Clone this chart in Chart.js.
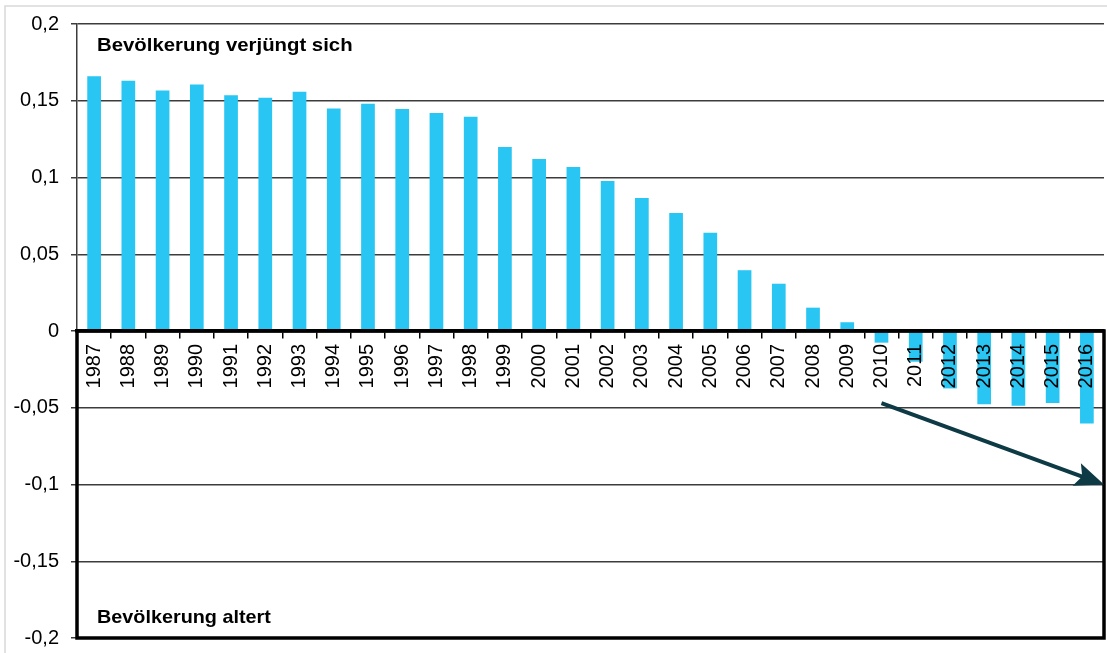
<!DOCTYPE html>
<html>
<head>
<meta charset="utf-8">
<script src="https://cdn.jsdelivr.net/npm/chart.js@4"></script>
<style>
  html, body { margin: 0; padding: 0; background: #fff; }
  #wrap { width: 1107px; height: 653px; position: relative; }
</style>
</head>
<body>
<div id="wrap"><canvas id="myChart" width="1107" height="653"></canvas></div>
<script>
// Jahre und Werte
const jahre = ['1987','1988','1989','1990','1991','1992','1993','1994','1995','1996',
  '1997','1998','1999','2000','2001','2002','2003','2004','2005','2006',
  '2007','2008','2009','2010','2011','2012','2013','2014','2015','2016'];
const werte = [0.166, 0.163, 0.1566, 0.1606, 0.1536, 0.1519, 0.1558, 0.1449, 0.148, 0.1447,
  0.142, 0.1395, 0.1199, 0.1121, 0.1069, 0.0978, 0.0867, 0.0769, 0.064, 0.0396,
  0.0308, 0.0152, 0.0057, -0.0076, -0.02, -0.0374, -0.0478, -0.0487, -0.0469, -0.0602];
const yTicks = [0.2, 0.15, 0.1, 0.05, 0, -0.05, -0.1, -0.15, -0.2];
const textOben = 'Bevölkerung verjüngt sich';
const textUnten = 'Bevölkerung altert';
// Pfeil: von 2010 bei -0,047 bis rechter Rand bei -0,1
const pfeilStart = { jahr: '2010', wert: -0.047 };
const pfeilEnde = { wert: -0.1 };

const fontFam = "'Liberation Sans', Arial, sans-serif";

const extras = {
  id: 'extras',
  beforeDraw(chart) {
    const c = chart.ctx;
    c.save();
    c.strokeStyle = '#d9d9d9';
    c.lineWidth = 1.5;
    c.beginPath();
    c.moveTo(5, 653); c.lineTo(5, 6); c.lineTo(1107, 6);
    c.stroke();
    c.restore();
  },
  afterDraw(chart) {
    const c = chart.ctx;
    const a = chart.chartArea;
    const x = chart.scales.x, y = chart.scales.y;
    const y0 = y.getPixelForValue(0);
    c.save();
    // schwarzer Kasten unter der Nulllinie
    c.strokeStyle = '#000';
    c.lineWidth = 3.5;
    c.strokeRect(a.left, y0, a.right - a.left, a.bottom - y0);

    // Texte
    c.fillStyle = '#000';
    c.font = 'bold 18.5px ' + fontFam;
    c.textBaseline = 'alphabetic';
    c.save();
    c.translate(97, 51);
    c.scale(1.1, 1);
    c.fillText(textOben, 0, 0);
    c.restore();
    c.save();
    c.translate(97, 623);
    c.scale(1.07, 1);
    c.fillText(textUnten, 0, 0);
    c.restore();

    // Pfeil
    const sx = x.getPixelForValue(jahre.indexOf(pfeilStart.jahr));
    const sy = y.getPixelForValue(pfeilStart.wert);
    const ex = a.right;
    const ey = y.getPixelForValue(pfeilEnde.wert);
    const ang = Math.atan2(ey - sy, ex - sx);
    const cos = Math.cos(ang), sin = Math.sin(ang);
    const headLen = 29, headW = 12;
    c.strokeStyle = '#0d3a45';
    c.fillStyle = '#0d3a45';
    c.lineWidth = 4;
    c.beginPath();
    c.moveTo(sx, sy);
    c.lineTo(ex - headLen * 0.75 * cos, ey - headLen * 0.75 * sin);
    c.stroke();
    c.beginPath();
    c.moveTo(ex, ey);
    c.lineTo(ex - headLen * cos + headW * sin, ey - headLen * sin - headW * cos);
    c.lineTo(ex - headLen * 0.8 * cos, ey - headLen * 0.8 * sin);
    c.lineTo(ex - headLen * cos - headW * sin, ey - headLen * sin + headW * cos);
    c.closePath();
    c.fill();
    c.restore();
  }
};

new Chart(document.getElementById('myChart'), {
  type: 'bar',
  data: {
    labels: jahre,
    datasets: [{
      data: werte,
      backgroundColor: '#29c5f3',
      barPercentage: 0.4,
      categoryPercentage: 1
    }]
  },
  options: {
    responsive: false,
    animation: false,
    events: [],
    layout: { padding: { left: 0, right: 3, top: 24, bottom: 15 } },
    plugins: { legend: { display: false }, tooltip: { enabled: false } },
    scales: {
      x: {
        position: { y: 0 },
        offset: true,
        afterFit(s) {
          s.paddingLeft = 0; s.paddingRight = 0;
          s.paddingTop = 0; s.paddingBottom = 0;
          s.height = 0;
        },
        grid: {
          display: true,
          drawOnChartArea: false,
          offset: true,
          color: '#000',
          lineWidth: 1.5,
          tickLength: 6,
          z: 1
        },
        border: { display: true, color: '#000', width: 3.5, z: 1 },
        ticks: {
          autoSkip: false,
          minRotation: 90,
          maxRotation: 90,
          padding: 7,
          z: 1,
          color: '#000',
          font: { family: fontFam, size: 20 }
        }
      },
      y: {
        min: -0.2,
        max: 0.2,
        afterFit(s) {
          s.width = 77;
          s.paddingTop = 0; s.paddingBottom = 0;
        },
        afterBuildTicks(s) { s.ticks = yTicks.map(v => ({ value: v })); },
        grid: { color: '#3c3c3c', lineWidth: 1.5, tickLength: 6 },
        border: { display: true, color: '#3c3c3c', width: 1.5 },
        ticks: {
          padding: 12,
          color: '#000',
          font: { family: fontFam, size: 20 },
          callback: v => String(v).replace('.', ',')
        }
      }
    }
  },
  plugins: [extras]
});
</script>
</body>
</html>
